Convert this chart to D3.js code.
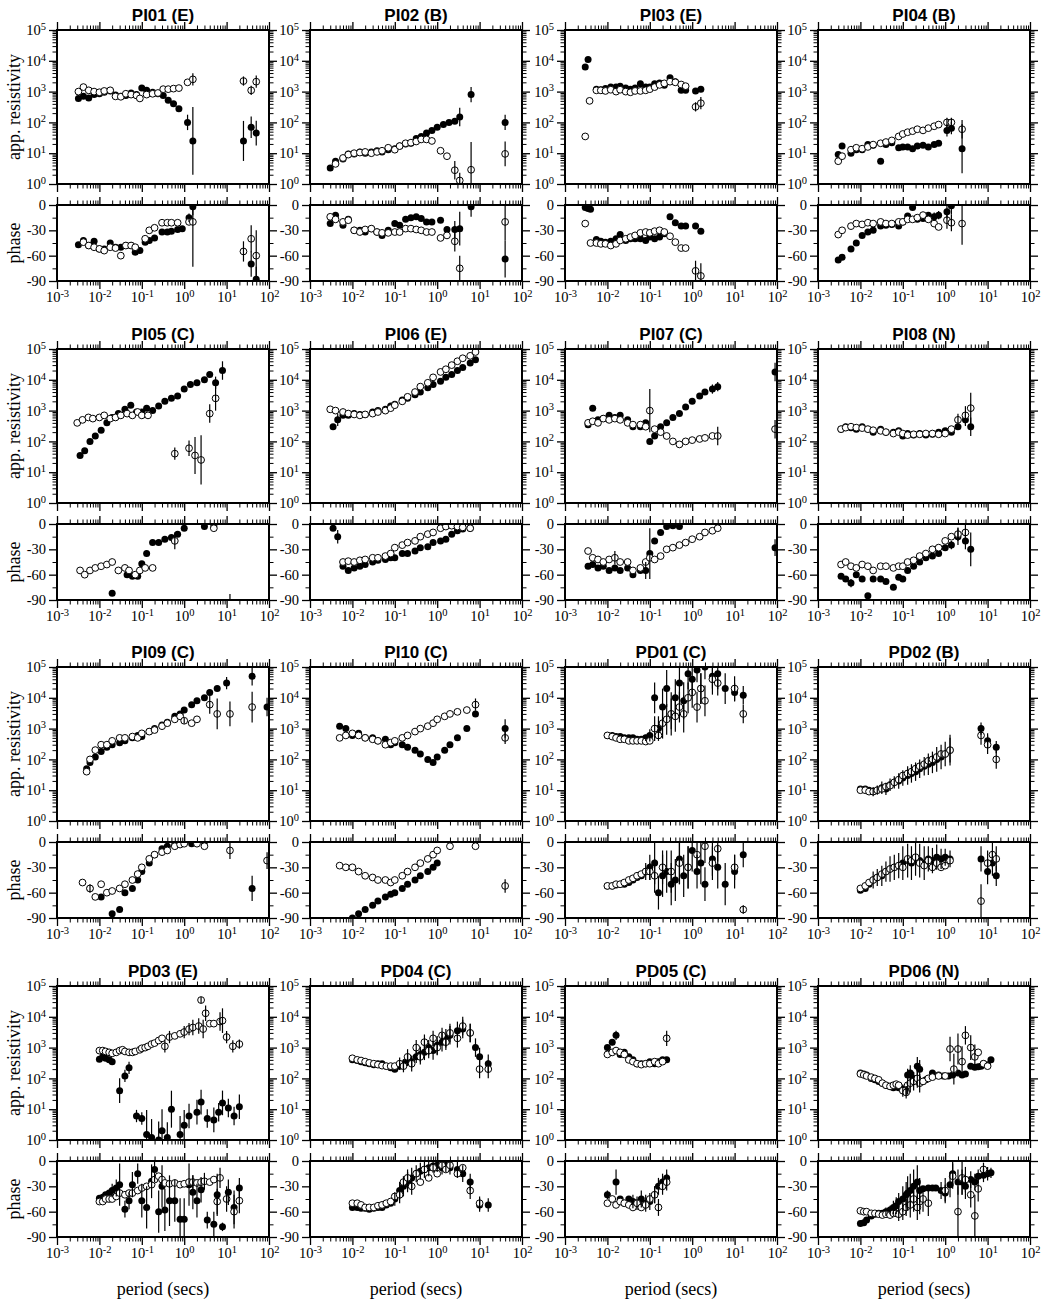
<!DOCTYPE html>
<html>
<head>
<meta charset="utf-8">
<script src="https://cdn.jsdelivr.net/npm/d3@7"></script>
<style>
body { margin: 0; background: #fff; }
.title { font-family: "Liberation Sans", Arial, sans-serif; font-weight: bold; font-size: 17px; }
.lab { font-family: "Liberation Serif", "Times New Roman", serif; font-size: 18px; }
</style>
</head>
<body>
<div id="chart"></div>
<script>
// station titles, in reading order
const titles = ["PI01 (E)", "PI02 (B)", "PI03 (E)", "PI04 (B)",
                "PI05 (C)", "PI06 (E)", "PI07 (C)", "PI08 (N)",
                "PI09 (C)", "PI10 (C)", "PD01 (C)", "PD02 (B)",
                "PD03 (E)", "PD04 (C)", "PD05 (C)", "PD06 (N)"];

// tick labels
const xTickExp = [-3, -2, -1, 0, 1, 2];
const rhoTickExp = [0, 1, 2, 3, 4, 5];
const phaseTicks = [0, -30, -60, -90];

// [period (s), value, error]  rho error in decades, phase error in degrees
// F = filled circles, O = open circles
const PI01_rhoF = [[0.0032,600],[0.0042,700],[0.0056,620],[0.0075,800],[0.01,850],[0.013,950],[0.018,1050],[0.024,780],[0.032,700],[0.042,750],[0.056,900],[0.075,800],[0.1,1300],[0.13,1100],[0.18,950],[0.24,850],[0.32,750],[0.42,520],[0.56,400],[0.75,280],[1.2,100,0.25],[1.6,25,1.1],[25,25,0.65],[38,70,0.35],[50,45,0.4]];
const PI01_rhoO = [[0.0032,1000],[0.0042,1400],[0.0056,1100],[0.0075,1000],[0.01,950],[0.013,1050],[0.018,1100],[0.024,700],[0.032,680],[0.042,850],[0.056,800],[0.075,750],[0.09,600],[0.13,800],[0.18,850],[0.24,900],[0.32,1200],[0.42,1200],[0.56,1250],[0.75,1300],[1.2,2000],[1.6,2500,0.2],[25,2200,0.15],[38,1100,0.15],[50,2100,0.2]];
const PI01_phF = [[0.0032,-47],[0.0042,-42],[0.0056,-48],[0.0075,-43],[0.01,-52],[0.013,-52],[0.018,-45],[0.024,-50],[0.032,-50],[0.042,-48],[0.056,-48],[0.07,-56],[0.09,-54],[0.12,-44],[0.15,-42],[0.2,-39],[0.3,-32],[0.4,-32],[0.5,-31],[0.7,-29],[0.9,-28],[1.3,-15,5],[1.6,-2,10],[38,-70,15],[50,-88,15]];
const PI01_phO = [[0.0042,-44],[0.0056,-48],[0.0075,-50],[0.01,-52],[0.013,-54],[0.018,-50],[0.024,-51],[0.032,-60],[0.042,-48],[0.056,-48],[0.07,-50],[0.12,-40],[0.15,-30],[0.2,-27],[0.3,-21],[0.4,-21],[0.5,-21],[0.7,-21],[1.3,-20],[1.6,-20,53],[25,-55,12],[38,-40,16],[50,-60,30]];

const PI02_rhoF = [[0.003,3.3],[0.004,5.5],[0.006,6.5],[0.008,9.5],[0.011,9.5],[0.015,11],[0.02,10],[0.028,11],[0.038,12],[0.05,11],[0.07,13],[0.1,14],[0.13,17],[0.18,20],[0.24,21],[0.32,30],[0.42,35],[0.56,45],[0.75,55],[1.0,70],[1.4,85],[1.9,100],[2.6,110],[3.4,150,0.3],[6.3,800,0.25],[40,100,0.25]];
const PI02_rhoO = [[0.004,4.5],[0.006,7],[0.008,9],[0.011,10],[0.015,10.5],[0.02,11],[0.028,10],[0.038,11],[0.05,12],[0.07,15],[0.1,13],[0.13,17],[0.18,21],[0.24,22],[0.32,24],[0.42,28],[0.56,28],[0.75,25],[1.2,12],[1.7,8],[2.6,2.8,0.3],[3.4,1.3,0.25],[6.3,2.9,0.9],[40,9.5,0.4]];
const PI02_phF = [[0.003,-22],[0.004,-12],[0.006,-24],[0.008,-17],[0.011,-30],[0.015,-30],[0.02,-32],[0.028,-28],[0.038,-32],[0.05,-36],[0.07,-30],[0.1,-22],[0.13,-24],[0.18,-17],[0.24,-15],[0.32,-14],[0.42,-16],[0.56,-20],[0.75,-20],[1.2,-18],[1.7,-29],[2.6,-29,10],[3.4,-28,20],[6.3,-2,12],[40,-64,22]];
const PI02_phO = [[0.003,-14],[0.004,-17],[0.006,-20],[0.008,-18],[0.011,-30],[0.015,-32],[0.02,-29],[0.028,-28],[0.038,-32],[0.05,-33],[0.07,-33],[0.1,-32],[0.13,-32],[0.18,-28],[0.24,-28],[0.32,-29],[0.42,-30],[0.56,-32],[0.75,-32],[1.2,-39],[1.7,-36],[2.6,-43,12],[3.4,-75,15],[40,-20,22]];

const PI03_rhoF = [[0.003,6300],[0.0035,11000],[0.0055,1200],[0.007,1150],[0.009,1250],[0.012,1400],[0.016,1400],[0.02,1500],[0.027,1300],[0.035,1200],[0.045,1300],[0.06,1800],[0.08,1400],[0.1,1400],[0.13,1800],[0.17,1900],[0.22,1600],[0.3,2800],[0.4,2100],[0.55,1100],[0.7,1100],[1.2,1050],[1.6,1200]];
const PI03_rhoO = [[0.003,35],[0.0038,500],[0.0055,1100],[0.007,1100],[0.009,1050],[0.012,1150],[0.016,1000],[0.02,1150],[0.027,1000],[0.035,950],[0.045,1050],[0.06,1050],[0.08,1100],[0.1,1200],[0.13,1400],[0.17,1650],[0.22,1850],[0.3,2100],[0.4,2000],[0.55,1700],[0.7,1500],[1.2,320,0.15],[1.6,420,0.2]];
const PI03_phF = [[0.003,-3],[0.0035,-4],[0.004,-5],[0.0055,-41],[0.007,-43],[0.009,-44],[0.012,-43],[0.016,-40],[0.02,-35],[0.027,-42],[0.035,-40],[0.045,-40],[0.06,-40],[0.08,-42],[0.1,-38],[0.13,-40],[0.17,-38],[0.22,-34],[0.3,-14],[0.4,-21],[0.55,-25],[0.7,-25],[1.2,-25],[1.6,-31]];
const PI03_phO = [[0.003,-22],[0.004,-45],[0.0055,-45],[0.007,-46],[0.009,-46],[0.012,-48],[0.016,-46],[0.02,-42],[0.027,-40],[0.035,-38],[0.045,-36],[0.06,-33],[0.08,-32],[0.1,-33],[0.13,-31],[0.17,-30],[0.22,-32],[0.3,-37],[0.4,-44],[0.55,-51],[0.7,-51],[1.2,-78,12],[1.6,-84,15]];

const PI04_rhoF = [[0.003,9],[0.0037,17],[0.006,10],[0.008,13],[0.011,13],[0.015,19],[0.02,18],[0.03,5.5],[0.04,19],[0.055,22],[0.08,15],[0.1,16],[0.13,16],[0.17,14],[0.22,17],[0.3,18],[0.4,16],[0.55,19],[0.7,21],[1.1,55,0.2],[1.4,65,0.2],[2.5,14,0.8]];
const PI04_rhoO = [[0.003,5.5],[0.0037,8],[0.006,13],[0.008,15],[0.011,14],[0.015,16],[0.02,19],[0.03,21],[0.04,23],[0.055,26],[0.08,35],[0.1,42],[0.13,48],[0.17,52],[0.22,60],[0.3,55],[0.4,65],[0.55,75],[0.7,85],[1.1,100,0.15],[1.4,100,0.15],[2.5,60,0.3]];
const PI04_phF = [[0.003,-65],[0.0037,-62],[0.006,-52],[0.008,-45],[0.011,-36],[0.015,-32],[0.02,-30],[0.03,-25],[0.04,-24],[0.055,-23],[0.08,-25],[0.1,-20],[0.13,-13],[0.17,-3],[0.22,-17],[0.3,-16],[0.4,-12],[0.55,-14,5],[0.7,-12,5],[1.1,-8,8],[1.4,-1,10]];
const PI04_phO = [[0.003,-35],[0.0037,-30],[0.006,-25],[0.008,-22],[0.011,-23],[0.015,-21],[0.02,-22],[0.03,-20],[0.04,-22],[0.055,-22],[0.08,-20],[0.1,-20],[0.13,-17],[0.17,-17],[0.22,-15],[0.3,-12],[0.4,-17],[0.55,-22],[0.7,-26],[1.1,-18,10],[1.4,-21,10],[2.5,-22,25]];

const PI05_rhoF = [[0.0035,35],[0.0045,50],[0.006,100],[0.008,150],[0.011,230],[0.015,400],[0.02,600],[0.028,800],[0.04,1100],[0.055,1500],[0.075,900],[0.1,900],[0.13,1200],[0.18,1000],[0.25,1400],[0.35,2000],[0.5,2500],[0.7,3000],[1,5000],[1.4,7000],[2,8000],[3,10000],[4,15000],[5.5,8000,0.2],[8,20000,0.3]];
const PI05_rhoO = [[0.003,400],[0.004,500],[0.0055,600],[0.007,550],[0.01,600],[0.013,700],[0.018,550],[0.024,600],[0.032,700],[0.045,800],[0.06,700],[0.08,900],[0.1,700],[0.14,700],[0.6,40,0.2],[1.3,60,0.25],[1.8,35,0.6],[2.5,25,0.8],[4,800,0.3],[5.5,2500,0.4]];
const PI05_phF = [[0.02,-82],[0.045,-60],[0.06,-62],[0.08,-62],[0.1,-47],[0.13,-35],[0.18,-22],[0.25,-22],[0.35,-18],[0.5,-16],[0.7,-12],[1,-5],[3,-3],[5,-2],[12,-98,15]];
const PI05_phO = [[0.0035,-55],[0.0045,-60],[0.006,-55],[0.008,-52],[0.011,-50],[0.015,-48],[0.02,-45],[0.028,-55],[0.04,-52],[0.05,-55],[0.07,-60],[0.09,-55],[0.12,-52],[0.18,-52],[0.6,-20,10],[5,-5]];

const PI06_rhoF = [[0.0035,300],[0.0045,500,0.2],[0.006,700],[0.008,700],[0.011,800],[0.015,750],[0.02,750],[0.03,900],[0.04,1000],[0.06,1100],[0.08,1400],[0.1,1600],[0.15,2200],[0.2,2500],[0.3,3300],[0.4,4000],[0.6,5500],[0.8,7000],[1.2,9000],[1.6,12000],[2.2,15000],[3,20000],[4,25000],[6,35000],[8,45000]];
const PI06_rhoO = [[0.003,1100],[0.004,1000],[0.006,900],[0.008,800],[0.011,750],[0.015,700],[0.02,750],[0.03,800],[0.04,900],[0.06,1000],[0.08,1200],[0.1,1500],[0.15,2000],[0.2,2800],[0.3,4000],[0.4,6000],[0.6,8000],[0.8,12000],[1.2,18000],[1.6,22000],[2.2,30000],[3,40000],[4,50000],[6,60000],[8,80000]];
const PI06_phF = [[0.0035,-5],[0.0045,-15,8],[0.006,-50],[0.008,-55],[0.011,-52],[0.015,-50],[0.02,-48],[0.03,-45],[0.04,-43],[0.06,-42],[0.08,-40],[0.1,-40],[0.15,-35],[0.2,-35],[0.3,-32],[0.4,-28],[0.6,-27],[0.8,-22],[1.2,-20],[1.6,-18],[2.2,-12],[3,-8],[4,-6],[6,-5]];
const PI06_phO = [[0.006,-45],[0.008,-44],[0.011,-45],[0.015,-43],[0.02,-42],[0.03,-40],[0.04,-40],[0.06,-38],[0.08,-35],[0.1,-28],[0.15,-25],[0.2,-22],[0.3,-20],[0.4,-15],[0.6,-12],[0.8,-10],[1.2,-5],[1.6,-3],[2.2,-2],[3,-3],[4,-4],[6,-5]];

const PI07_rhoF = [[0.0035,350],[0.0045,1200],[0.006,500],[0.008,550],[0.011,700],[0.015,600],[0.02,700],[0.03,500],[0.04,300],[0.06,300],[0.08,400],[0.1,100],[0.13,150],[0.18,300],[0.25,400],[0.35,600],[0.5,800],[0.7,1300],[1,2000],[1.5,3000],[2,4000],[3,5000,0.15],[4,6000,0.15],[90,18000,0.3]];
const PI07_rhoO = [[0.0035,400],[0.0045,450],[0.006,400],[0.008,550],[0.011,500],[0.015,550],[0.02,500],[0.03,400],[0.04,350],[0.06,350],[0.08,300],[0.1,1000,0.7],[0.13,250],[0.18,200],[0.25,150],[0.35,100],[0.5,80],[0.7,100],[1,110],[1.5,120],[2,130],[3,150],[4,150,0.3],[90,250,0.3]];
const PI07_phF = [[0.0035,-50],[0.0045,-48],[0.006,-52],[0.008,-50],[0.011,-55],[0.015,-52],[0.02,-55],[0.03,-52],[0.04,-60],[0.06,-55],[0.08,-55,10],[0.1,-35,30],[0.13,-20],[0.18,-10],[0.25,-3],[0.35,-2],[0.5,-3],[90,-28,10]];
const PI07_phO = [[0.0035,-32],[0.0045,-40],[0.006,-42],[0.008,-45],[0.011,-42],[0.015,-40,8],[0.02,-45],[0.03,-45],[0.04,-55],[0.06,-52],[0.08,-45],[0.1,-40],[0.13,-42],[0.18,-38],[0.25,-30],[0.35,-28],[0.5,-25],[0.7,-22],[1,-18],[1.5,-15],[2,-10],[3,-8],[4,-5]];

const PI08_rhoF = [[0.0035,250],[0.0045,300],[0.006,280],[0.008,250],[0.011,300],[0.015,250],[0.02,200],[0.03,250],[0.04,200],[0.06,200],[0.08,220],[0.1,150],[0.13,180],[0.18,160],[0.25,180],[0.35,160],[0.5,170],[0.7,200],[1,220],[1.4,200],[2,300],[3,500,0.2],[4,300,0.3]];
const PI08_rhoO = [[0.0035,250],[0.0045,280],[0.006,300],[0.008,280],[0.011,270],[0.015,250],[0.02,230],[0.03,220],[0.04,200],[0.06,180],[0.08,200],[0.1,180],[0.13,160],[0.18,170],[0.25,170],[0.35,180],[0.5,180],[0.7,170],[1,180],[1.4,250],[2,500,0.2],[3,700,0.3],[4,1200,0.5]];
const PI08_phF = [[0.0035,-62],[0.0045,-65],[0.006,-70,5],[0.008,-60],[0.011,-65],[0.015,-85],[0.02,-65],[0.03,-65],[0.04,-68],[0.06,-75],[0.08,-63],[0.1,-65],[0.13,-55],[0.18,-50],[0.25,-45],[0.35,-40],[0.5,-38],[0.7,-35],[1,-28],[1.4,-25,5],[2,-15,10],[3,-20,10],[4,-30,20]];
const PI08_phO = [[0.0035,-48],[0.0045,-45],[0.006,-50],[0.008,-52],[0.011,-48],[0.015,-50],[0.02,-55],[0.03,-50],[0.04,-50],[0.06,-52],[0.08,-50],[0.1,-50],[0.13,-45],[0.18,-43],[0.25,-38],[0.35,-35],[0.5,-30],[0.7,-28],[1,-20],[1.4,-15],[2,-12,8],[3,-10,10]];

const PI09_rhoF = [[0.005,50],[0.006,80],[0.008,120],[0.011,180],[0.015,250],[0.02,300],[0.03,350],[0.04,400],[0.06,500],[0.08,600],[0.1,550],[0.15,800],[0.2,1000],[0.3,1300],[0.4,1600],[0.6,2500],[0.8,3000],[1,4000],[1.5,6000],[2,8000],[3,10000],[4,15000],[6,20000],[10,30000,0.2],[40,50000,0.3],[90,5000,0.3]];
const PI09_rhoO = [[0.005,40],[0.006,100],[0.008,200],[0.011,300],[0.015,300],[0.02,400],[0.03,500],[0.04,500],[0.06,550],[0.08,500],[0.1,700],[0.15,800],[0.2,900],[0.3,1200],[0.4,1500],[0.6,2000],[0.8,2500],[1,1800,0.1],[1.5,1500],[2,2000],[4,6000,0.3],[6,3000,0.5],[12,3000,0.4],[40,5000,0.5]];
const PI09_phF = [[0.006,-55,5],[0.011,-65],[0.02,-85],[0.03,-80],[0.04,-60],[0.06,-55],[0.08,-45],[0.1,-35],[0.15,-25],[0.2,-15],[0.3,-8],[0.4,-5],[0.6,-3],[0.8,-2],[1,-1],[1.5,-2],[3,0],[40,-55,15]];
const PI09_phO = [[0.004,-48],[0.006,-55],[0.008,-65],[0.011,-50],[0.015,-60],[0.02,-58],[0.03,-55],[0.04,-50],[0.06,-45],[0.08,-38],[0.1,-30],[0.15,-20],[0.2,-15],[0.3,-12],[0.4,-10],[0.6,-5],[0.8,-3],[1,-2],[2,-2],[3,-5],[12,-10,10],[90,-22,10]];

const PI10_rhoF = [[0.005,1200],[0.007,1000],[0.01,600],[0.014,700],[0.02,500],[0.03,500],[0.04,400],[0.06,450],[0.08,300],[0.1,350],[0.15,300],[0.2,250],[0.3,200],[0.4,150],[0.6,100],[0.8,80],[1,120],[1.5,200],[2,300],[3,500],[5,1000],[8,3000],[40,1000,0.3]];
const PI10_rhoO = [[0.005,500],[0.007,600],[0.01,700],[0.014,600],[0.02,500],[0.03,450],[0.04,400],[0.06,300],[0.08,350],[0.1,400],[0.15,500],[0.2,600],[0.3,800],[0.4,1000],[0.6,1200],[0.8,1500],[1,2000],[1.5,2500],[2,3000],[3,3500],[5,4000],[8,6000,0.2],[40,500,0.2]];
const PI10_phF = [[0.01,-90],[0.014,-85],[0.02,-80],[0.03,-75],[0.04,-70],[0.06,-65],[0.08,-62],[0.1,-60],[0.15,-55],[0.2,-50],[0.3,-45],[0.4,-40],[0.6,-35],[0.8,-30],[1,-25]];
const PI10_phO = [[0.005,-28],[0.007,-30],[0.01,-30],[0.014,-35],[0.02,-40],[0.03,-42],[0.04,-45],[0.06,-45],[0.08,-48],[0.1,-45],[0.15,-40],[0.2,-35],[0.3,-30],[0.4,-25],[0.6,-20],[0.8,-15],[1,-10],[2,-5],[8,-5],[40,-52,8]];

const PD01_rhoF = [[0.01,600],[0.013,600],[0.016,550],[0.02,550],[0.025,500],[0.032,500],[0.04,500],[0.05,450],[0.063,450],[0.08,500,0.1],[0.1,600,0.2],[0.13,10000,0.5],[0.16,1000,0.4],[0.2,5000,0.6],[0.25,20000,0.6],[0.32,3000,0.7],[0.4,10000,0.6],[0.5,30000,0.5],[0.63,8000,0.6],[0.8,60000,0.5],[1,40000,0.5],[1.3,80000,0.4],[1.6,20000,0.5],[2,100000,0.4],[3,50000,0.4],[4,60000,0.5],[6,20000,0.5],[10,15000,0.3],[16,12000,0.3]];
const PD01_rhoO = [[0.01,600],[0.013,550],[0.016,500],[0.02,450],[0.025,450],[0.032,400],[0.04,400],[0.05,400],[0.063,400],[0.08,380],[0.1,400],[0.13,1000,0.4],[0.16,600],[0.2,1500,0.5],[0.25,2000,0.5],[0.32,3000,0.5],[0.4,2500,0.5],[0.5,5000,0.5],[0.63,3000,0.6],[0.8,10000,0.5],[1,15000,0.5],[1.3,5000,0.5],[1.6,20000,0.5],[2,8000,0.5],[3,40000,0.5],[4,30000,0.4],[10,20000,0.4],[16,3000,0.3]];
const PD01_phF = [[0.01,-52],[0.013,-52],[0.016,-51],[0.02,-50],[0.025,-50],[0.032,-48],[0.04,-45],[0.05,-42],[0.063,-40],[0.08,-35,10],[0.1,-30,15],[0.13,-25,25],[0.16,-60,20],[0.2,-40,25],[0.25,-35,25],[0.32,-50,25],[0.4,-45,25],[0.5,-20,30],[0.63,-40,25],[0.8,-30,25],[1,-10,25],[1.3,-35,20],[1.6,-25,25],[2,-50,20],[3,-20,20],[4,-30,25],[6,-50,25],[10,-35,20],[16,-15,15]];
const PD01_phO = [[0.01,-52],[0.013,-52],[0.016,-50],[0.02,-50],[0.025,-48],[0.032,-45],[0.04,-43],[0.05,-40],[0.063,-38],[0.08,-35],[0.1,-35,10],[0.13,-40,20],[0.2,-30,20],[0.32,-35,25],[0.5,-25,25],[0.8,-30,25],[1.3,-15,20],[2,-5,20],[3,-25,20],[4,-8,15],[10,-30,15],[16,-80,5]];

const PD02_rhoF = [[0.01,11],[0.013,11],[0.016,10],[0.02,9,0.15],[0.025,10,0.15],[0.032,12,0.2],[0.04,11,0.2],[0.05,15,0.2],[0.063,18,0.2],[0.08,20,0.25],[0.1,25,0.25],[0.13,30,0.3],[0.16,35,0.3],[0.2,40,0.3],[0.25,50,0.3],[0.32,60,0.3],[0.4,70,0.35],[0.5,80,0.35],[0.63,100,0.4],[0.8,120,0.4],[1,150,0.4],[1.3,200,0.5],[7,1000,0.2],[10,400,0.25],[16,250,0.2]];
const PD02_rhoO = [[0.01,10],[0.013,10],[0.016,9],[0.02,9],[0.025,10],[0.032,11],[0.04,13],[0.05,14],[0.063,18],[0.08,22],[0.1,30],[0.13,35],[0.16,40],[0.2,50],[0.25,60],[0.32,70],[0.4,90],[0.5,100],[0.63,120],[0.8,150],[1,150],[1.3,200,0.4],[7,600,0.3],[10,300,0.3],[16,100,0.3]];
const PD02_phF = [[0.01,-57],[0.013,-55],[0.016,-50],[0.02,-45,10],[0.025,-42,10],[0.032,-40,12],[0.04,-35,12],[0.05,-32,15],[0.063,-30,15],[0.08,-28,15],[0.1,-25,20],[0.13,-22,20],[0.16,-25,20],[0.2,-20,20],[0.25,-22,20],[0.32,-25,20],[0.4,-20,15],[0.5,-22,15],[0.63,-18,15],[0.8,-20,12],[1,-18,10],[1.3,-20,10],[7,-20,15],[10,-35,15],[13,-25,15],[16,-40,12]];
const PD02_phO = [[0.01,-55],[0.013,-52],[0.016,-48],[0.02,-45],[0.025,-42],[0.032,-38],[0.04,-35],[0.05,-32],[0.063,-30],[0.08,-28],[0.1,-30],[0.13,-20],[0.16,-22],[0.2,-18],[0.25,-25],[0.32,-28],[0.4,-22],[0.5,-30],[0.63,-25],[0.8,-30],[1,-28],[1.3,-22],[7,-70,20],[10,-25,15],[13,-15,15],[16,-20,15]];

const PD03_rhoF = [[0.01,420],[0.012,500],[0.014,450],[0.017,400],[0.02,350],[0.03,40,0.4],[0.04,120,0.2],[0.05,220,0.2],[0.075,6,0.2],[0.1,5,0.2],[0.13,1.5,0.8],[0.17,1.2,0.6],[0.25,1,0.6],[0.3,2,0.7],[0.4,1.2,0.5],[0.5,10,0.6],[0.8,1.5,0.6],[1,3,0.5],[1.3,6,0.4],[2,8,0.4],[2.5,17,0.4],[3.5,5,0.3],[5,4.5,0.4],[6.5,8,0.3],[8,16,0.4],[11,11,0.3],[15,6,0.3],[20,12,0.4]];
const PD03_rhoO = [[0.01,800],[0.012,800],[0.014,750],[0.017,700],[0.02,650],[0.025,700],[0.03,800],[0.035,850],[0.04,750],[0.05,700],[0.06,700],[0.07,750],[0.09,850],[0.1,950],[0.12,1000],[0.14,1100],[0.17,1300],[0.2,1400],[0.25,1700],[0.3,2000],[0.35,1100,0.2],[0.45,2200,0.2],[0.6,2400],[0.8,2800],[1,3200,0.2],[1.3,4000,0.2],[1.6,4500,0.25],[2.2,5000,0.25],[2.5,35000,0.1],[2.8,4000,0.3],[3.2,13000,0.25],[4,6000],[5,6000],[7,7000,0.3],[8,7500,0.4],[10,2200,0.2],[14,1100,0.2],[20,1300,0.15]];
const PD03_phF = [[0.01,-44],[0.012,-43],[0.014,-40],[0.017,-38],[0.02,-35,8],[0.025,-32,10],[0.03,-28,25],[0.04,-57,10],[0.05,-47,10],[0.06,-28,15],[0.08,-15,12],[0.1,-47,20],[0.13,-55,25],[0.17,-24,20],[0.2,-10,15],[0.25,-60,25],[0.3,-30,25],[0.35,-58,25],[0.45,-47,30],[0.6,-47,25],[0.8,-69,25],[1,-69,25],[1.3,-28,25],[1.6,-37,20],[2,-47,20],[2.5,-34,15],[3.5,-70,10],[5,-75,15],[6,-40,25],[8,-78,5],[11,-37,15],[15,-55,20],[20,-32,12]];
const PD03_phO = [[0.01,-48],[0.012,-48],[0.014,-45],[0.017,-45],[0.02,-45],[0.025,-42],[0.03,-38],[0.04,-40],[0.05,-38],[0.06,-38],[0.08,-35],[0.1,-32],[0.13,-30],[0.17,-28],[0.2,-22],[0.25,-18],[0.3,-22],[0.35,-26],[0.45,-27],[0.6,-26],[0.8,-28],[1,-27],[1.3,-25],[1.6,-25,8],[2,-26],[2.5,-25],[3,-24,10],[4,-25],[5,-22],[6,-48,15],[7,-20,12],[10,-45,15],[15,-60,20],[20,-47,15]];

const PD04_rhoF = [[0.01,400],[0.013,380],[0.016,350],[0.02,320],[0.025,300],[0.032,280],[0.04,300],[0.05,300],[0.063,250],[0.08,220],[0.1,200],[0.13,250,0.1],[0.16,300,0.15],[0.2,400,0.2],[0.25,350,0.2],[0.32,500,0.2],[0.4,600,0.25],[0.5,700,0.25],[0.63,1000,0.25],[0.8,800,0.3],[1,1200,0.3],[1.3,1500,0.3],[1.6,2000,0.3],[2,2500,0.3],[3,3500,0.3],[4,4000,0.3],[6,3000,0.3],[8,1000,0.3],[10,500,0.3],[16,300,0.3]];
const PD04_rhoO = [[0.01,450],[0.013,400],[0.016,380],[0.02,350],[0.025,320],[0.032,300],[0.04,280],[0.05,260],[0.063,250],[0.08,250],[0.1,250],[0.13,300,0.2],[0.16,250,0.2],[0.2,500,0.25],[0.25,300,0.25],[0.32,1000,0.25],[0.4,500,0.25],[0.5,1500,0.25],[0.63,800,0.25],[0.8,2000,0.25],[1,1000,0.25],[1.3,2500,0.25],[1.6,1500,0.25],[2,3000,0.3],[3,2000,0.3],[4,5000,0.3],[6,3000,0.3],[10,200,0.3],[16,200,0.3]];
const PD04_phF = [[0.01,-55],[0.013,-55],[0.016,-56],[0.02,-56],[0.025,-57],[0.032,-56],[0.04,-55],[0.05,-55],[0.063,-52],[0.08,-50],[0.1,-45,8],[0.13,-35,10],[0.16,-30,12],[0.2,-25,12],[0.25,-20,12],[0.32,-15,10],[0.4,-12,10],[0.5,-10,10],[0.63,-8,10],[0.8,-6,8],[1,-5,8],[1.3,-8,8],[1.6,-5,8],[2,-8,8],[3,-10,10],[4,-15,10],[6,-25,10],[10,-52,8],[16,-52,8]];
const PD04_phO = [[0.01,-50],[0.013,-50],[0.016,-52],[0.02,-55],[0.025,-55],[0.032,-55],[0.04,-53],[0.05,-52],[0.063,-50],[0.08,-48],[0.1,-42],[0.13,-40,10],[0.16,-25],[0.2,-20,10],[0.25,-30,10],[0.32,-15],[0.4,-25],[0.5,-10],[0.63,-20],[0.8,-8],[1,-15],[1.3,-5],[1.6,-10],[2,-5],[3,-15],[4,-8],[6,-35,10],[10,-50,8]];

const PD05_rhoF = [[0.01,1000],[0.013,1500,0.1],[0.016,2500,0.15],[0.02,600],[0.025,700],[0.032,500],[0.04,400],[0.05,300],[0.063,300],[0.08,300],[0.1,350],[0.13,300],[0.16,350],[0.2,400],[0.25,400]];
const PD05_rhoO = [[0.01,600],[0.013,700],[0.016,800],[0.02,700],[0.025,600],[0.032,400],[0.04,350],[0.05,300],[0.063,280],[0.08,300],[0.1,300],[0.13,350],[0.16,300],[0.2,350],[0.25,2000,0.25]];
const PD05_phF = [[0.01,-40,5],[0.016,-25,15],[0.02,-45],[0.025,-50],[0.032,-45],[0.04,-48,8],[0.05,-50,8],[0.063,-45,10],[0.08,-50,10],[0.1,-48,10],[0.13,-40,10],[0.16,-30,10],[0.2,-25,10],[0.25,-20,10]];
const PD05_phO = [[0.01,-50],[0.013,-45],[0.016,-52],[0.02,-48],[0.025,-50],[0.032,-52],[0.04,-55],[0.05,-50],[0.063,-55],[0.08,-52],[0.1,-45],[0.13,-40,10],[0.16,-55,10],[0.2,-30,10],[0.25,-25,10]];

const PD06_rhoF = [[0.01,150],[0.012,140],[0.014,130],[0.018,100],[0.022,90],[0.027,80],[0.033,70],[0.04,60],[0.05,55],[0.06,50],[0.07,55],[0.08,50],[0.1,45],[0.12,40,0.15],[0.13,130,0.2],[0.15,150,0.25],[0.18,100,0.2],[0.22,250,0.3],[0.25,200,0.3],[0.3,80],[0.35,90],[0.5,150],[0.7,130],[0.9,120],[1.2,120],[1.5,130],[2,150],[2.5,130],[3,140],[4,250],[5,230],[6,240],[7,250],[8,300],[10,280],[12,400]];
const PD06_rhoO = [[0.01,140],[0.012,130],[0.014,120],[0.018,110],[0.022,100],[0.027,90],[0.033,70],[0.04,60],[0.05,55],[0.06,60],[0.07,65],[0.08,60],[0.1,40,0.2],[0.12,35,0.2],[0.13,60,0.3],[0.15,70,0.3],[0.18,80,0.3],[0.22,100,0.3],[0.25,70,0.3],[0.3,80],[0.4,100],[0.5,110],[0.7,120],[1,120],[1.3,900,0.4],[1.6,200,0.5],[2,900,0.5],[2.5,350,0.5],[3,2500,0.3],[4,1000,0.4],[5,500,0.4],[6,700],[8,300],[10,250]];
const PD06_phF = [[0.01,-74],[0.012,-73],[0.014,-70],[0.018,-65],[0.022,-63],[0.027,-62],[0.033,-62],[0.04,-60,5],[0.05,-58,5],[0.06,-55,8],[0.07,-53,10],[0.08,-48,10],[0.1,-45,15],[0.12,-40,15],[0.13,-38,20],[0.15,-35,20],[0.18,-30,20],[0.22,-25,20],[0.25,-35,15],[0.3,-33],[0.4,-32],[0.5,-32],[0.6,-32],[0.8,-35,10],[1,-38,10],[1.3,-28,15],[1.5,-15,15],[2,-25,15],[2.5,-25,15],[3,-30,15],[4,-22,10],[5,-25,10],[6,-18,8],[8,-17,8],[10,-15,8],[12,-14,6]];
const PD06_phO = [[0.01,-59],[0.012,-60],[0.014,-60],[0.018,-62],[0.022,-62],[0.027,-63],[0.033,-64],[0.04,-63],[0.05,-64],[0.06,-62],[0.07,-62],[0.08,-63,8],[0.1,-60,10],[0.12,-55,10],[0.15,-52,15],[0.18,-45,15],[0.22,-55,15],[0.25,-48,15],[0.3,-45,15],[0.4,-50,15],[1,-35,15],[1.5,-18,15],[2,-60,30],[2.5,-20,20],[3,-22,15],[4,-40,15],[5,-65,25],[6,-33,15],[8,-10,8]];

const rhoFilled = [PI01_rhoF, PI02_rhoF, PI03_rhoF, PI04_rhoF, PI05_rhoF, PI06_rhoF, PI07_rhoF, PI08_rhoF,
                   PI09_rhoF, PI10_rhoF, PD01_rhoF, PD02_rhoF, PD03_rhoF, PD04_rhoF, PD05_rhoF, PD06_rhoF];
const rhoOpen = [PI01_rhoO, PI02_rhoO, PI03_rhoO, PI04_rhoO, PI05_rhoO, PI06_rhoO, PI07_rhoO, PI08_rhoO,
                 PI09_rhoO, PI10_rhoO, PD01_rhoO, PD02_rhoO, PD03_rhoO, PD04_rhoO, PD05_rhoO, PD06_rhoO];
const phFilled = [PI01_phF, PI02_phF, PI03_phF, PI04_phF, PI05_phF, PI06_phF, PI07_phF, PI08_phF,
                  PI09_phF, PI10_phF, PD01_phF, PD02_phF, PD03_phF, PD04_phF, PD05_phF, PD06_phF];
const phOpen = [PI01_phO, PI02_phO, PI03_phO, PI04_phO, PI05_phO, PI06_phO, PI07_phO, PI08_phO,
                PI09_phO, PI10_phO, PD01_phO, PD02_phO, PD03_phO, PD04_phO, PD05_phO, PD06_phO];

// layout
var colX = [57, 310, 565, 818],
    rowY = [30, 349, 667, 986],
    w = 212, rh = 154, gap = 21, ph = 76;
var serif = '"Liberation Serif", "Times New Roman", serif';

var svg = d3.select("#chart").append("svg")
    .attr("width", 1052)
    .attr("height", 1311);

// scales
var xScale = d3.scaleLog().domain([1e-3, 1e2]).range([0, w]);
var rhoScale = d3.scaleLog().domain([1, 1e5]).range([rh, 0]);
var phScale = d3.scaleLinear().domain([-90, 0]).range([ph, 0]);

var xMajor = xTickExp.map(function(e){ return Math.pow(10, e); });
var xMinor = [];
xTickExp.slice(0, -1).forEach(function(e){
    for (var k = 2; k < 10; k++) xMinor.push(k * Math.pow(10, e));
});
var rhoMajor = rhoTickExp.map(function(e){ return Math.pow(10, e); });
var rhoMinor = [];
rhoTickExp.slice(0, -1).forEach(function(e){
    for (var k = 2; k < 10; k++) rhoMinor.push(k * Math.pow(10, e));
});
var phMinor = [-15, -45, -75];

// 10 with superscript exponent
function powLabel(d) {
    var t = d3.select(this).text("10");
    t.append("tspan")
        .attr("dy", "-0.5em")
        .attr("font-size", "10.5px")
        .text(Math.round(Math.log10(d)));
}

// one set of ticks (minor + major) on one side of a box
function ticks(g, axisFn, scale, major, minor, tr, label) {
    g.append("g").attr("transform", tr)
        .call(axisFn(scale).tickValues(minor).tickSize(4.5).tickSizeOuter(0).tickFormat(""))
        .call(function(s){ s.select(".domain").remove(); });
    var a = g.append("g").attr("transform", tr)
        .call(axisFn(scale).tickValues(major).tickSize(8).tickSizeOuter(0).tickPadding(3)
              .tickFormat(function(d){ return String(d); }))
        .attr("font-family", serif)
        .attr("font-size", 14.5);
    a.select(".domain").remove();
    a.selectAll(".tick line").attr("stroke-width", 1.3);
    if (label) a.selectAll(".tick text").each(label);
    else a.selectAll(".tick text").remove();
}

function drawSeries(g, filled, open, ys, isLog, clipId) {
    var yLo = function(d){ return isLog ? ys(d[1] / Math.pow(10, d[2])) : ys(d[1] - d[2]); };
    var yHi = function(d){ return isLog ? ys(d[1] * Math.pow(10, d[2])) : ys(d[1] + d[2]); };
    var pts = g.append("g").attr("clip-path", "url(#" + clipId + ")");
    pts.selectAll(".f").data(filled).enter().append("circle")
        .attr("cx", function(d){ return xScale(d[0]); })
        .attr("cy", function(d){ return ys(d[1]); })
        .attr("r", 3.5)
        .attr("fill", "#000");
    pts.selectAll(".o").data(open).enter().append("circle")
        .attr("cx", function(d){ return xScale(d[0]); })
        .attr("cy", function(d){ return ys(d[1]); })
        .attr("r", 3.4)
        .attr("fill", "#fff")
        .attr("stroke", "#000")
        .attr("stroke-width", 1);
    var bars = filled.concat(open).filter(function(d){ return d[2]; });
    pts.selectAll(".e").data(bars).enter().append("line")
        .attr("x1", function(d){ return xScale(d[0]); })
        .attr("x2", function(d){ return xScale(d[0]); })
        .attr("y1", yLo)
        .attr("y2", yHi)
        .attr("stroke", "#000")
        .attr("stroke-width", 1.2);
}

var defs = svg.append("defs");
defs.append("clipPath").attr("id", "clipRho")
    .append("rect").attr("x", -1).attr("y", -1).attr("width", w + 2).attr("height", rh + 2);
defs.append("clipPath").attr("id", "clipPh")
    .append("rect").attr("x", -1).attr("y", -1).attr("width", w + 2).attr("height", ph + 2);

titles.forEach(function(t, i) {
    var col = i % 4, row = Math.floor(i / 4);
    var x0 = colX[col], y0 = rowY[row], yp = y0 + rh + gap;

    svg.append("text")
        .attr("class", "title")
        .attr("x", x0 + w / 2)
        .attr("y", y0 - 9)
        .attr("text-anchor", "middle")
        .text(t);

    // resistivity box
    var gr = svg.append("g").attr("transform", "translate(" + x0 + "," + y0 + ")");
    drawSeries(gr, rhoFilled[i], rhoOpen[i], rhoScale, true, "clipRho");
    ticks(gr, d3.axisBottom, xScale, xMajor, xMinor, "translate(0," + rh + ")", null);
    ticks(gr, d3.axisTop, xScale, xMajor, xMinor, "translate(0,0)", null);
    ticks(gr, d3.axisLeft, rhoScale, rhoMajor, rhoMinor, "translate(0,0)", powLabel);
    ticks(gr, d3.axisRight, rhoScale, rhoMajor, rhoMinor, "translate(" + w + ",0)", null);
    gr.append("rect").attr("width", w).attr("height", rh)
        .attr("fill", "none").attr("stroke", "#000").attr("stroke-width", 2);

    // phase box
    var gp = svg.append("g").attr("transform", "translate(" + x0 + "," + yp + ")");
    drawSeries(gp, phFilled[i], phOpen[i], phScale, false, "clipPh");
    ticks(gp, d3.axisBottom, xScale, xMajor, xMinor, "translate(0," + ph + ")", powLabel);
    ticks(gp, d3.axisTop, xScale, xMajor, xMinor, "translate(0,0)", null);
    ticks(gp, d3.axisLeft, phScale, phaseTicks, phMinor, "translate(0,0)", function(d){ d3.select(this).text(String(d)); });
    ticks(gp, d3.axisRight, phScale, phaseTicks, phMinor, "translate(" + w + ",0)", null);
    gp.append("rect").attr("width", w).attr("height", ph)
        .attr("fill", "none").attr("stroke", "#000").attr("stroke-width", 2);

    if (col == 0) {
        svg.append("text").attr("class", "lab")
            .attr("transform", "translate(20," + (y0 + rh / 2) + ") rotate(-90)")
            .attr("text-anchor", "middle")
            .text("app. resistivity");
        svg.append("text").attr("class", "lab")
            .attr("transform", "translate(20," + (yp + ph / 2) + ") rotate(-90)")
            .attr("text-anchor", "middle")
            .text("phase");
    }
    if (row == 3) {
        svg.append("text").attr("class", "lab")
            .attr("x", x0 + w / 2)
            .attr("y", yp + ph + 58)
            .attr("text-anchor", "middle")
            .text("period (secs)");
    }
});
</script>
</body>
</html>
